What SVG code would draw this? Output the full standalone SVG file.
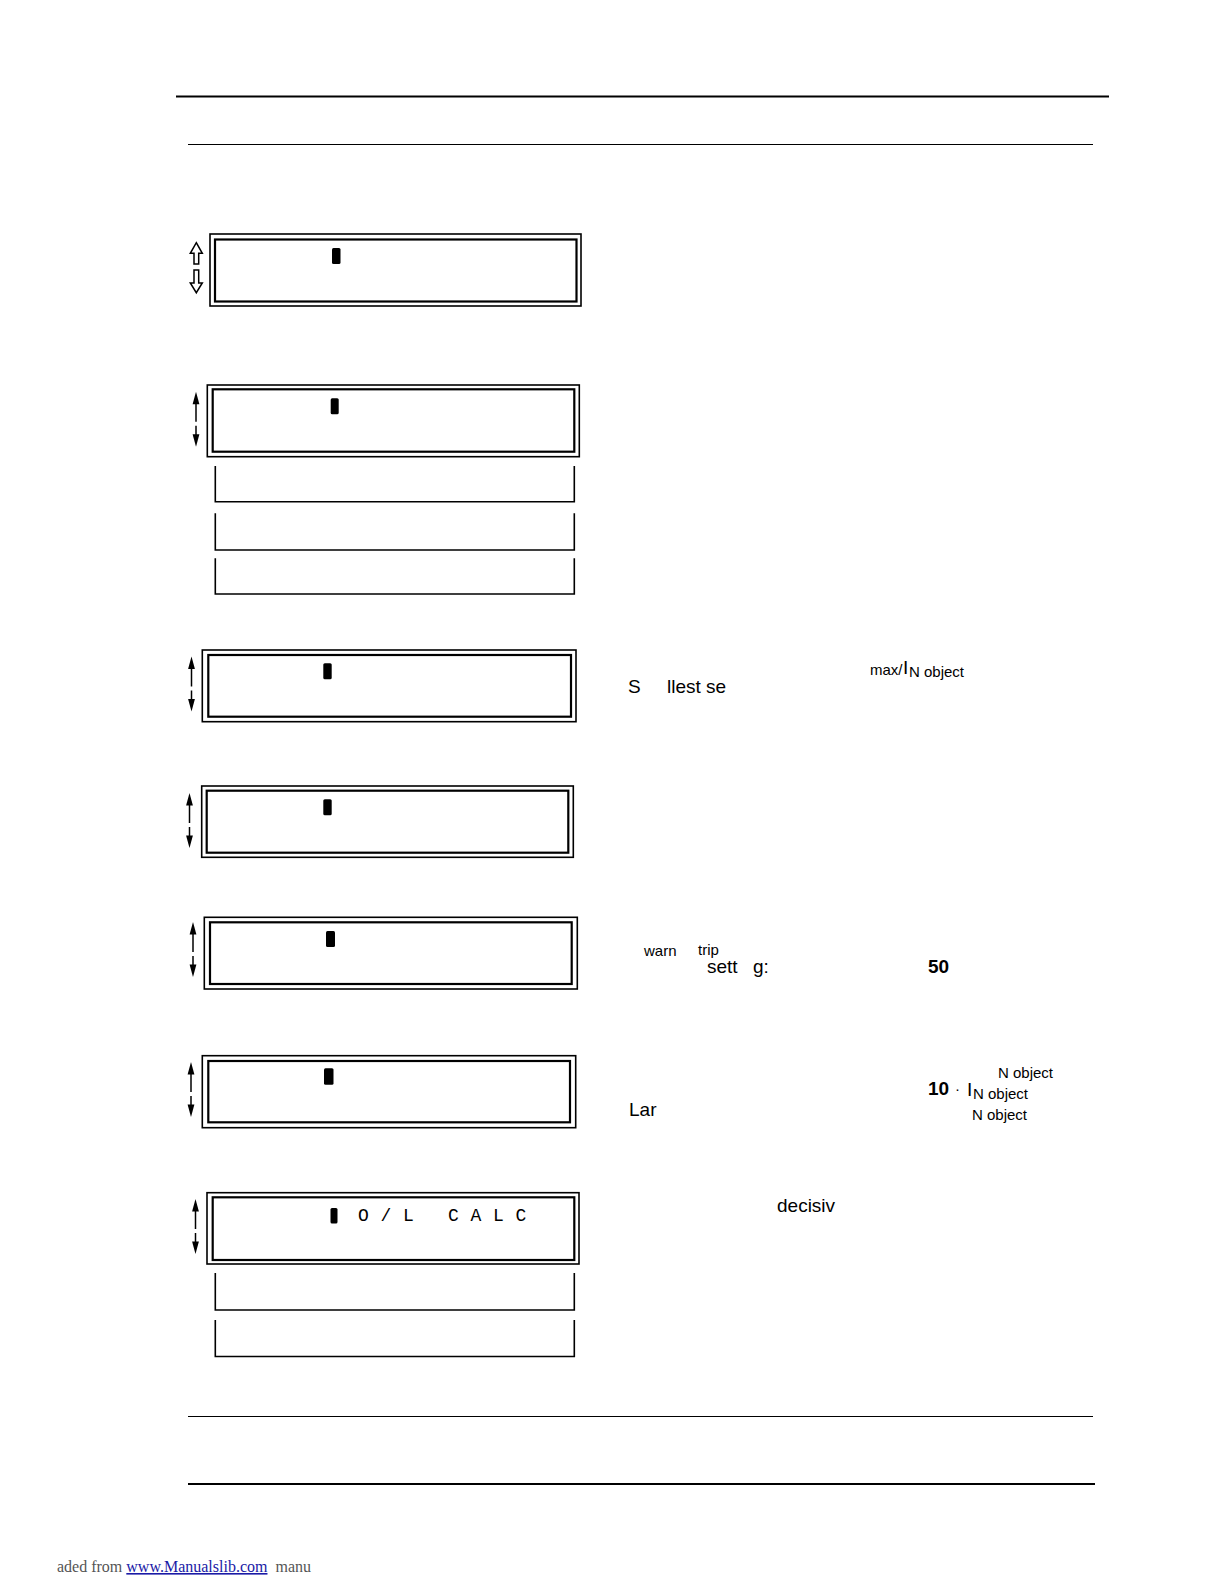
<svg xmlns="http://www.w3.org/2000/svg" width="1224" height="1584" viewBox="0 0 1224 1584">
<style>
.o{fill:none;stroke:#000;stroke-width:1.6}
.i{fill:none;stroke:#000;stroke-width:2.2}
.c{fill:#000}
.s{fill:none;stroke:#000;stroke-width:1.6}
.al{stroke:#000;stroke-width:1.5}
.ah{fill:#000}
.t{font-family:"Liberation Sans",Arial,sans-serif;font-size:19px;fill:#000}
.sm{font-family:"Liberation Sans",Arial,sans-serif;font-size:15px;fill:#000}
.b{font-weight:bold}
.m{font-family:"Liberation Mono","Courier New",monospace;font-size:18px;letter-spacing:0.45px;fill:#000}
.f{font-family:"Liberation Serif","Times New Roman",serif;font-size:16px;fill:#555}
.lk{fill:#1a1aa6;text-decoration:underline}
.rule{stroke:#000}
</style>
<defs>
<g id="dblarrow">
<path class="ah" d="M0,0 L3.4,12.5 L-3.4,12.5 Z"/>
<line class="al" x1="0" y1="11" x2="0" y2="30"/>
<line class="al" x1="0" y1="34" x2="0" y2="44"/>
<path class="ah" d="M0,55 L3.4,42.5 L-3.4,42.5 Z"/>
</g>
</defs>

<g id="rules">
<line class="rule" x1="176" y1="96.5" x2="1109" y2="96.5" stroke-width="2.2"/>
<line class="rule" x1="188" y1="144.5" x2="1093" y2="144.5" stroke-width="1.2"/>
<line class="rule" x1="188" y1="1416.5" x2="1093" y2="1416.5" stroke-width="1.2"/>
<line class="rule" x1="188" y1="1484" x2="1095" y2="1484" stroke-width="2"/>
</g>

<g id="node1">
<rect class="o" x="210" y="234" width="371" height="72" stroke-width="2"/>
<rect class="i" x="215" y="239.5" width="361.5" height="62"/>
<rect class="c" x="332" y="248" width="8.5" height="16" rx="1.5"/>
<path fill="none" stroke="#000" stroke-width="1.5" d="M196.3,242.7 L202.3,253.3 L198.7,253.3 L198.7,264 L194,264 L194,253.3 L190.3,253.3 Z"/>
<path fill="none" stroke="#000" stroke-width="1.5" d="M194,270 L198.7,270 L198.7,283 L202.3,283 L196.3,292.7 L190.3,283 L194,283 Z"/>
</g>

<g id="node2">
<rect class="o" x="207.3" y="385" width="372" height="71.7"/>
<rect class="i" x="212.7" y="389.3" width="361.6" height="62.4"/>
<rect class="c" x="330.7" y="398.3" width="8" height="16" rx="1.5"/>
<use href="#dblarrow" x="196" y="391.7"/>
</g>
<g id="node2a"><path class="s" d="M215.3,466 V501.7 H574.3 V466"/></g>
<g id="node2b"><path class="s" d="M215.3,513.3 V550 H574.3 V513.3"/></g>
<g id="node2c"><path class="s" d="M215.3,558.3 V594 H574.3 V558.3"/></g>

<g id="node3">
<rect class="o" x="202.3" y="650" width="373.7" height="71.7"/>
<rect class="i" x="208.3" y="655" width="362.7" height="61.7"/>
<rect class="c" x="323.3" y="663.3" width="8.4" height="16" rx="1.5"/>
<use href="#dblarrow" x="191.5" y="656.5"/>
</g>
<g id="text3">
<text class="t" x="628" y="693">S</text>
<text class="t" x="667" y="693">llest se</text>
<text class="sm" x="870" y="675">max/</text>
<text class="t" x="903" y="674" font-size="20">I</text>
<text class="sm" x="909" y="677">N object</text>
</g>

<g id="node4">
<rect class="o" x="201.7" y="786" width="371.6" height="71.3" stroke-width="1.2"/>
<rect class="i" x="206.7" y="790.7" width="361.6" height="62"/>
<rect class="c" x="323.3" y="799.3" width="8.4" height="16" rx="1.5"/>
<use href="#dblarrow" x="189.5" y="793"/>
</g>

<g id="node5">
<rect class="o" x="204.3" y="917.3" width="373" height="71.7"/>
<rect class="i" x="210" y="922.3" width="361.7" height="61.7"/>
<rect class="c" x="326" y="931" width="9" height="16" rx="1.5"/>
<use href="#dblarrow" x="193" y="922"/>
</g>
<g id="text5">
<text class="sm" x="644" y="956">warn</text>
<text class="sm" x="698" y="955">trip</text>
<text class="t" x="707" y="973">sett</text>
<text class="t" x="753" y="973">g:</text>
<text class="t b" x="928" y="973">50</text>
</g>

<g id="node6">
<rect class="o" x="202.3" y="1055.7" width="373.4" height="72"/>
<rect class="i" x="208.3" y="1061" width="361.7" height="61.3"/>
<rect class="c" x="324" y="1068.3" width="9.5" height="16.5" rx="1.5"/>
<use href="#dblarrow" x="191" y="1062"/>
</g>
<g id="text6">
<text class="sm" x="998" y="1078">N object</text>
<text class="t b" x="928" y="1095">10</text>
<text class="sm" x="955" y="1094">·</text>
<text class="t" x="967" y="1096">I</text>
<text class="sm" x="973" y="1099">N object</text>
<text class="sm" x="972" y="1120">N object</text>
<text class="t" x="629" y="1116">Lar</text>
</g>

<g id="node7">
<rect class="o" x="207" y="1192.7" width="372" height="71.3"/>
<rect class="i" x="212.7" y="1197.3" width="361.6" height="62.7"/>
<rect class="c" x="330.5" y="1208" width="7" height="15.5" rx="1.5"/>
<text class="m" x="358" y="1221" xml:space="preserve">O / L   C A L C</text>
<use href="#dblarrow" x="195.5" y="1199"/>
</g>
<g id="node7a"><path class="s" d="M215.3,1273 V1310 H574.3 V1273"/></g>
<g id="node7b"><path class="s" d="M215.3,1320 V1356.5 H574.3 V1320"/></g>
<g id="text7">
<text class="t" x="777" y="1212">decisiv</text>
</g>

<g id="footer">
<text class="f" x="57" y="1572" xml:space="preserve">aded from <tspan class="lk">www.Manualslib.com</tspan>  manu</text>
</g>
</svg>
